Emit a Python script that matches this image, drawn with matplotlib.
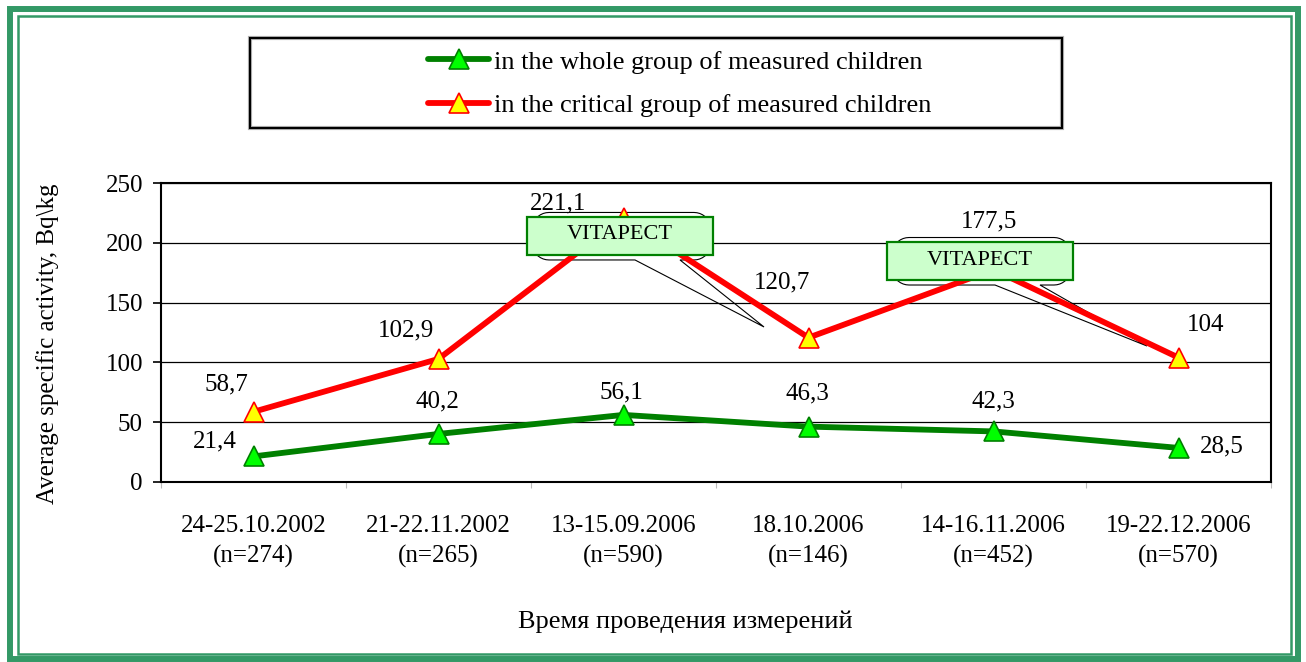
import numpy as np
import matplotlib
matplotlib.use("Agg")
import matplotlib.pyplot as plt
from matplotlib.patches import Rectangle, Polygon
from matplotlib.lines import Line2D
from matplotlib.transforms import Affine2D

plt.rcParams['font.family'] = ['Liberation Serif', 'DejaVu Serif']

# data
dates = ["24-25.10.2002", "21-22.11.2002", "13-15.09.2006",
         "18.10.2006", "14-16.11.2006", "19-22.12.2006"]
n_measured = [274, 265, 590, 146, 452, 570]
whole_group = [21.4, 40.2, 56.1, 46.3, 42.3, 28.5]
critical_group = [58.7, 102.9, 221.1, 120.7, 177.5, 104]
whole_label = "in the whole group of measured children"
critical_label = "in the critical group of measured children"
callout_text = "VITAPECT"
callout_at = [2, 4]   # points of the critical series carrying a callout

W, H = 1306, 662
fig = plt.figure(figsize=(W / 100, H / 100), dpi=100)
fig.patch.set_facecolor("white")
img = Affine2D().scale(1, -1).translate(0, H)   # image pixels, y down

ax = fig.add_axes([161 / W, 1 - 482 / H, 1110 / W, 299 / H])
x = np.arange(len(dates))
ax.set_xlim(-0.5, len(dates) - 0.5)
ax.set_ylim(0, 250)
ax.set_yticks(np.arange(0, 251, 50))
ax.grid(axis="y", color="black", lw=0.9)
ax.set_axisbelow(True)
for s in ax.spines.values():
    s.set_color("black")
    s.set_linewidth(1.5)
ax.tick_params(axis="y", length=6, width=1.2, pad=7, labelsize=18)
ax.set_xticks(np.arange(len(dates) + 1) - 0.5)
ax.set_xticklabels([])
ax.tick_params(axis="x", which="major", length=4, color="#bbbbbb")
ax.set_xticks(x, minor=True)
ax.set_xticklabels([f"{d}\n(n={n})" for d, n in zip(dates, n_measured)],
                   minor=True, fontsize=18, linespacing=1.45)
ax.tick_params(axis="x", which="minor", length=0, pad=24)

lw, ms = 4.2, 15
ax.plot(x, whole_group, color="#008000", lw=lw, marker="^", ms=ms,
        mfc="#00FF00", mec="#008000", mew=1.2, zorder=4, clip_on=False)
ax.plot(x, critical_group, color="#FF0000", lw=lw, marker="^", ms=ms,
        mfc="#FFFF00", mec="#FF0000", mew=1.2, zorder=4, clip_on=False)

# label offsets in pixels (dx right, dy down)
whole_off = [(-39, -15), (-1, -32), (-2, -22), (-1, -33), (0, -30), (43, -1)]
crit_off = [(-27, -27), (-33, -28), (-65, -14), (-26, -55), (-4, -48), (27, -33)]
for vals, offs in [(whole_group, whole_off), (critical_group, crit_off)]:
    for i, (v, (dx, dy)) in enumerate(zip(vals, offs)):
        txt = f"{v:g}".replace(".", ",")
        ax.annotate(txt, (i, v), xytext=(dx * 0.72, -dy * 0.72),
                    textcoords="offset points", ha="center", va="center",
                    fontsize=18, zorder=7, annotation_clip=False)


def callout_path(x0, y0, x1, y1, r, bx0, bx1, tx, ty):
    def arc(cx, cy, a0, a1):
        t = np.radians(np.linspace(a0, a1, 10))
        return list(zip(cx + r * np.cos(t), cy + r * np.sin(t)))
    pts = [(x0 + r, y0), (x1 - r, y0)]
    pts += arc(x1 - r, y0 + r, -90, 0)
    pts += arc(x1 - r, y1 - r, 0, 90)
    pts += [(bx1, y1), (tx, ty), (bx0, y1)]
    pts += arc(x0 + r, y1 - r, 90, 180)
    pts += arc(x0 + r, y0 + r, 180, 270)
    return pts


# callout layout relative to the marker, in pixels
callout_box = [(-96.5, -0.6), (-106.5, -27.7)]
callout_tip = [(140.5, 109.4), (153.5, 76.3)]
bw, bh = 186, 38
for k, i in enumerate(callout_at):
    mx, my = ax.transData.transform((i, critical_group[i]))
    my = H - my
    gx, gy = mx + callout_box[k][0], my + callout_box[k][1]
    tx, ty = mx + callout_tip[k][0], my + callout_tip[k][1]
    pts = callout_path(gx + 5, gy - 4.5, gx + bw - 2, gy + bh + 5, 17,
                       gx + 108, gx + 153, tx, ty)
    ax.add_patch(Polygon(pts, closed=True, fill=False, ec="black", lw=0.8,
                         transform=img, clip_on=False, zorder=3))
    ax.add_patch(Rectangle((gx, gy), bw, bh, fc="#CCFFCC", ec="#008000",
                           lw=1.6, transform=img, clip_on=False, zorder=5))
    ax.text(gx + bw / 2, gy + bh / 2 - 1, callout_text, transform=img,
            ha="center", va="center", fontsize=16, zorder=6)

# legend with its box
fig.add_artist(Rectangle((250, 38), 812, 90, fill=False, ec="#b0b0b0",
                         lw=3.0, transform=img))
fig.add_artist(Rectangle((250, 38), 812, 90, fill=False, ec="black",
                         lw=1.5, transform=img))
handles = [Line2D([], [], color="#008000", lw=lw, marker="^", ms=ms,
                  mfc="#00FF00", mec="#008000", mew=1.2, solid_capstyle="round"),
           Line2D([], [], color="#FF0000", lw=lw, marker="^", ms=ms,
                  mfc="#FFFF00", mec="#FF0000", mew=1.2, solid_capstyle="round")]
fig.legend(handles, [whole_label, critical_label], loc="center",
           bbox_to_anchor=(680 / W, 1 - 83.5 / H), frameon=False, fontsize=19,
           handlelength=2.3, handletextpad=0.2, labelspacing=0.75)

fig.text(48 / W, 1 - 344 / H, "Average specific activity, Bq\\kg",
         rotation=90, ha="center", va="center", fontsize=18)
fig.text(685 / W, 1 - 622 / H, "Время проведения измерений",
         ha="center", va="center", fontsize=19)

# green double frame
fig.add_artist(Rectangle((10, 8.5), 1287.5, 650, fill=False, ec="#339966",
                         lw=4.3, transform=img))
fig.add_artist(Rectangle((17.5, 15.5), 1273.5, 638, fill=False, ec="#339966",
                         lw=1.8, transform=img))

fig.savefig("out.png", dpi=100)
